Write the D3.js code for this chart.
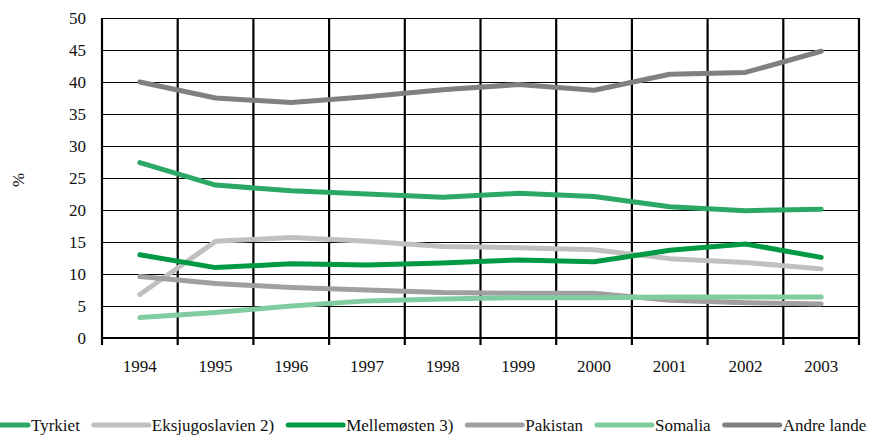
<!DOCTYPE html>
<html>
<head>
<meta charset="utf-8">
<script src="https://cdn.jsdelivr.net/npm/d3@7"></script>
</head>
<body style="margin:0">
<div id="chart"></div>
<script>
// data
var years = ["1994", "1995", "1996", "1997", "1998", "1999", "2000", "2001", "2002", "2003"];
var seriesNames = ["Tyrkiet", "Eksjugoslavien 2)", "Mellemøsten 3)", "Pakistan", "Somalia", "Andre lande"];
var tyrkiet       = [27.4, 23.9, 23.0, 22.5, 22.0, 22.6, 22.1, 20.5, 19.9, 20.1];
var eksjugoslavien = [6.8, 15.1, 15.7, 15.1, 14.3, 14.1, 13.8, 12.4, 11.8, 10.8];
var mellemoesten  = [13.0, 11.0, 11.6, 11.4, 11.7, 12.2, 11.9, 13.7, 14.7, 12.6];
var pakistan      = [9.6, 8.5, 7.9, 7.5, 7.1, 7.0, 7.0, 5.9, 5.5, 5.3];
var somalia       = [3.2, 4.0, 5.0, 5.8, 6.1, 6.3, 6.3, 6.4, 6.4, 6.4];
var andreLande    = [40.0, 37.5, 36.8, 37.7, 38.8, 39.6, 38.7, 41.2, 41.5, 44.8];
var yTicks = [0, 5, 10, 15, 20, 25, 30, 35, 40, 45, 50];

var allValues = [tyrkiet, eksjugoslavien, mellemoesten, pakistan, somalia, andreLande];
var colors = ["#2ba866", "#c0c0c0", "#009a44", "#a0a0a0", "#80cba0", "#808080"];
var fontFamily = "Liberation Serif";

var W = 871, H = 438;
var margin = {top: 18, right: 12, bottom: 100, left: 102};
var width = W - margin.left - margin.right,
    height = H - margin.top - margin.bottom;

var svg = d3.select("#chart").append("svg")
    .attr("width", W).attr("height", H)
    .attr("font-family", fontFamily)
    .style("display", "block");

var g = svg.append("g")
    .attr("transform", "translate(" + margin.left + "," + margin.top + ")");

var x = d3.scaleBand().domain(years).range([0, width]);
var y = d3.scaleLinear().domain([0, 50]).range([height, 0]);

// horizontal grid
g.append("g")
  .selectAll("line")
  .data(yTicks)
  .enter().append("line")
    .attr("x1", 0).attr("x2", width)
    .attr("y1", function(d) { return Math.round(y(d)) + 0.5; })
    .attr("y2", function(d) { return Math.round(y(d)) + 0.5; })
    .attr("stroke", "#000").attr("stroke-width", 1.2);

// vertical grid at category boundaries (with tick marks below axis)
var bounds = years.map(function(d) { return x(d); }).concat([width]);
g.append("g")
  .selectAll("line")
  .data(bounds)
  .enter().append("line")
    .attr("x1", function(d) { return d; }).attr("x2", function(d) { return d; })
    .attr("y1", 0).attr("y2", height + 7)
    .attr("stroke", "#000").attr("stroke-width", 2.2);

// x axis line
g.append("line")
  .attr("x1", 0).attr("x2", width)
  .attr("y1", height).attr("y2", height)
  .attr("stroke", "#000").attr("stroke-width", 2.2);

// y labels
g.append("g")
  .selectAll("text")
  .data(yTicks)
  .enter().append("text")
    .attr("x", -16)
    .attr("y", function(d) { return y(d); })
    .attr("dy", "0.35em")
    .attr("text-anchor", "end")
    .attr("font-family", fontFamily)
    .attr("font-size", 17)
    .attr("fill", "#111")
    .text(function(d) { return d; });

// x labels
g.append("g")
  .selectAll("text")
  .data(years)
  .enter().append("text")
    .attr("x", function(d) { return x(d) + x.bandwidth() / 2; })
    .attr("y", height + 34)
    .attr("text-anchor", "middle")
    .attr("font-family", fontFamily)
    .attr("font-size", 17)
    .attr("fill", "#111")
    .text(function(d) { return d; });

// y title
svg.append("text")
  .attr("transform", "translate(24,180) rotate(-90)")
  .attr("text-anchor", "middle")
  .attr("font-family", fontFamily)
  .attr("font-size", 17)
  .attr("fill", "#111")
  .text("%");

// lines
var line = d3.line()
  .x(function(d, i) { return x(years[i]) + x.bandwidth() / 2; })
  .y(function(d) { return y(d); });

g.append("g")
  .selectAll("path")
  .data(allValues)
  .enter().append("path")
    .attr("d", line)
    .attr("fill", "none")
    .attr("stroke", function(d, i) { return colors[i]; })
    .attr("stroke-width", 5)
    .attr("stroke-linejoin", "round")
    .attr("stroke-linecap", "round");

// legend
var legend = svg.append("g").attr("transform", "translate(0,425)");
var lx = -27;
seriesNames.forEach(function(name, i) {
  var item = legend.append("g").attr("transform", "translate(" + lx + ",0)");
  item.append("line")
    .attr("x1", 0).attr("x2", 55).attr("y1", 0).attr("y2", 0)
    .attr("stroke", colors[i]).attr("stroke-width", 5)
    .attr("stroke-linecap", "round");
  var t = item.append("text")
    .attr("x", 58).attr("y", 0).attr("dy", "0.35em")
    .attr("font-family", fontFamily)
    .attr("font-size", 17).attr("fill", "#111")
    .text(name);
  lx += 58 + t.node().getComputedTextLength() + 14;
});
</script>
</body>
</html>
